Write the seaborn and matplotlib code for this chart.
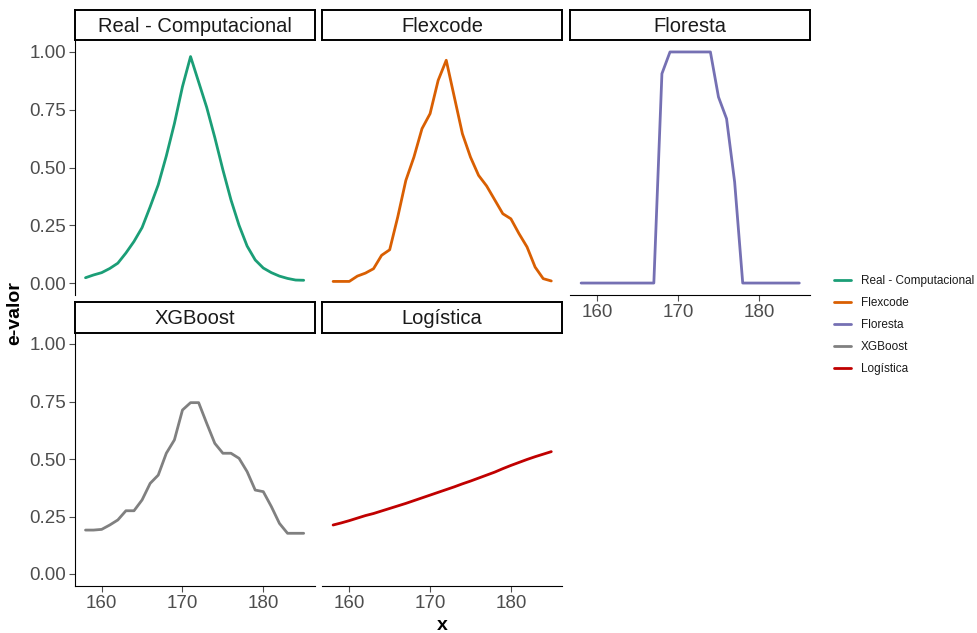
import numpy as np
import pandas as pd
import seaborn as sns
import matplotlib
matplotlib.use("Agg")
import matplotlib.pyplot as plt

# ---------------- data ----------------
x_vals = list(range(158, 186))

real_comp = [0.023, 0.035, 0.045, 0.063, 0.086, 0.13, 0.18, 0.24, 0.33, 0.425,
             0.55, 0.69, 0.85, 0.98, 0.87, 0.76, 0.63, 0.49, 0.36, 0.25,
             0.16, 0.10, 0.065, 0.045, 0.03, 0.02, 0.013, 0.012]
flexcode = [0.007, 0.007, 0.007, 0.03, 0.043, 0.062, 0.12, 0.144, 0.286, 0.444,
            0.545, 0.668, 0.733, 0.877, 0.964, 0.805, 0.646, 0.545, 0.466, 0.42,
            0.36, 0.30, 0.278, 0.214, 0.156, 0.069, 0.019, 0.009]
floresta = [0, 0, 0, 0, 0, 0, 0, 0, 0, 0,
            0.906, 1.0, 1.0, 1.0, 1.0, 1.0, 1.0, 0.805, 0.711, 0.437,
            0, 0, 0, 0, 0, 0, 0, 0]
xgboost = [0.191, 0.191, 0.194, 0.213, 0.235, 0.275, 0.275, 0.322, 0.394, 0.43,
           0.525, 0.583, 0.713, 0.745, 0.745, 0.655, 0.568, 0.525, 0.525, 0.503,
           0.445, 0.365, 0.358, 0.293, 0.22, 0.177, 0.177, 0.177]
logistica = [0.213, 0.222, 0.232, 0.243, 0.254, 0.263, 0.274, 0.285, 0.296, 0.307,
             0.319, 0.331, 0.343, 0.355, 0.367, 0.379, 0.392, 0.404, 0.417, 0.430,
             0.443, 0.458, 0.472, 0.485, 0.498, 0.510, 0.521, 0.532]

models = ["Real - Computacional", "Flexcode", "Floresta", "XGBoost", "Logística"]
series = [real_comp, flexcode, floresta, xgboost, logistica]
colors = ["#1B9E77", "#D95F02", "#7570B3", "#808080", "#C00000"]

y_ticks = [0.00, 0.25, 0.50, 0.75, 1.00]
y_ticklabels = ["0.00", "0.25", "0.50", "0.75", "1.00"]
x_ticks = [160, 170, 180]

df = pd.DataFrame({
    "x": np.tile(x_vals, len(models)),
    "e-valor": np.concatenate(series),
    "Modelo": np.repeat(models, len(x_vals)),
})

# ---------------- figure ----------------
sns.set_theme(style="white")
plt.rcParams["font.family"] = ["Liberation Sans", "DejaVu Sans"]

W, H = 977, 633
fig = plt.figure(figsize=(W / 100, H / 100), dpi=100)

def fx(px):
    return px / W

def fy(py):
    return 1 - py / H

col_lr = [(74.6, 314.6), (322.2, 562.2), (570.2, 810.2)]
row_tb = [(40.4, 294.6), (332.5, 585.5)]
strip_tb = [(10.0, 40.4), (302.0, 332.5)]

tick_color = "#4D4D4D"
palette = dict(zip(models, colors))
handles = []

for i, m in enumerate(models):
    r, c = divmod(i, 3)
    l, rr = col_lr[c]
    t, b = row_tb[r]
    ax = fig.add_axes([fx(l), fy(b), fx(rr - l), (b - t) / H])
    sub = df[df["Modelo"] == m]
    sns.lineplot(data=sub, x="x", y="e-valor", color=palette[m], lw=2.0,
                 ax=ax, legend=False)
    handles.append(ax.lines[0])
    ax.set_xlim(156.65, 186.35)
    ax.set_ylim(-0.05, 1.05)
    ax.set_xlabel("")
    ax.set_ylabel("")
    for s in ["top", "right"]:
        ax.spines[s].set_visible(False)
    ax.spines["left"].set_color("black")
    ax.spines["bottom"].set_color("black")
    ax.spines["left"].set_linewidth(0.8)
    ax.spines["bottom"].set_linewidth(0.8)
    ax.set_facecolor("white")
    ax.grid(False)

    show_y = (c == 0)
    show_x = (r == 1) or (c == 2)
    ax.set_yticks(y_ticks)
    ax.set_xticks(x_ticks)
    if show_y:
        ax.set_yticklabels(y_ticklabels)
        ax.tick_params(axis="y", length=4, width=0.8, color=tick_color,
                       labelcolor=tick_color, labelsize=13.5, pad=2, left=True)
    else:
        ax.spines["left"].set_visible(False)
        ax.tick_params(axis="y", left=False, labelleft=False)
    if show_x:
        ax.tick_params(axis="x", length=4, width=0.8, color=tick_color,
                       labelcolor=tick_color, labelsize=13.5, pad=3, bottom=True)
    else:
        ax.spines["bottom"].set_visible(False)
        ax.tick_params(axis="x", bottom=False, labelbottom=False)

    # strip
    st, sb = strip_tb[r]
    sax = fig.add_axes([fx(l), fy(sb), fx(rr - l), (sb - st) / H])
    sax.set_xticks([])
    sax.set_yticks([])
    sax.set_facecolor("white")
    for s in sax.spines.values():
        s.set_visible(True)
        s.set_color("black")
        s.set_linewidth(1.4)
    sax.text(0.5, 0.47, m, ha="center", va="center", fontsize=14.5,
             color="#1A1A1A", transform=sax.transAxes)

# axis titles
fig.text(fx(15), fy(313), "e-valor", rotation=90, ha="center", va="center",
         fontsize=14, fontweight="bold", color="black")
fig.text(fx(442.4), fy(625), "x", ha="center", va="center",
         fontsize=14, fontweight="bold", color="black")

# legend
leg = fig.legend(handles, models, loc="center left",
                 bbox_to_anchor=(fx(834), fy(325)), frameon=False,
                 fontsize=8.5, handlelength=1.45, handletextpad=0.85,
                 labelspacing=0.86, borderpad=0, borderaxespad=0)
for txt in leg.get_texts():
    txt.set_color("#1A1A1A")

fig.savefig("out.png", dpi=100, facecolor="white")
